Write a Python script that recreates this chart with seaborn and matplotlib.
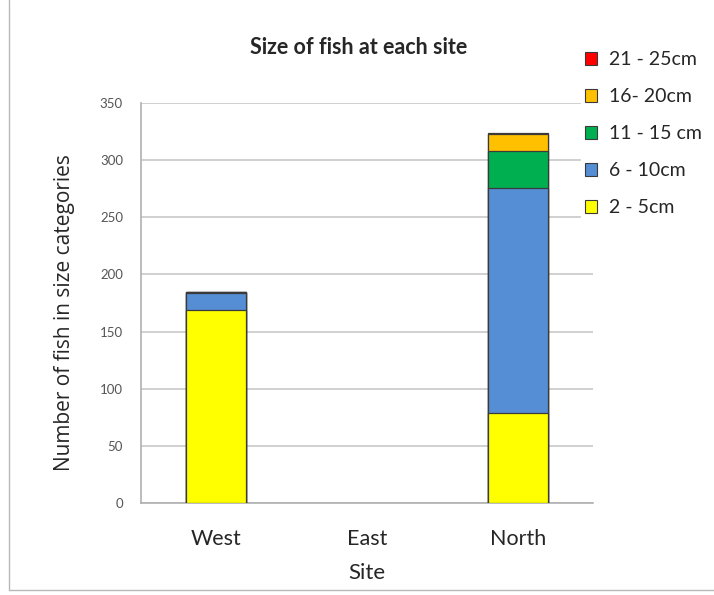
"""Stacked bar chart: size of fish at each site."""

import matplotlib

matplotlib.use("Agg")

import matplotlib.pyplot as plt
import numpy as np
import pandas as pd
import seaborn as sns
from matplotlib.lines import Line2D
from matplotlib.patches import Patch


SITES = ["West", "East", "North"]
SIZE_CLASSES = ["2 - 5cm", "6 - 10cm", "11 - 15 cm", "16- 20cm", "21 - 25cm"]
SIZE_2_5 = [169, 0, 79]
SIZE_6_10 = [15, 0, 197]
SIZE_11_15 = [1, 0, 32]
SIZE_16_20 = [0, 0, 15]
SIZE_21_25 = [0, 0, 1]
COLOURS = ["#FFFF00", "#558ED5", "#00B050", "#FFC000", "#FF0000"]


def main() -> None:
    sns.set_style("white")
    plt.rcParams["font.family"] = ["Lato", "DejaVu Sans"]

    counts = pd.DataFrame(
        [SIZE_2_5, SIZE_6_10, SIZE_11_15, SIZE_16_20, SIZE_21_25],
        index=SIZE_CLASSES,
        columns=SITES,
    ).T
    cumulative = counts.cumsum(axis=1).replace(0, np.nan)

    fig = plt.figure(figsize=(7.14, 5.95), dpi=100)
    ax = fig.add_axes([0.1975, 0.1546, 0.633, 0.6723])

    # Draw running totals from the top class down so each layer shows through.
    for size_class, colour in reversed(list(zip(SIZE_CLASSES, COLOURS))):
        layer = cumulative[size_class].rename_axis("site").reset_index(name="total")
        sns.barplot(
            data=layer,
            x="site",
            y="total",
            order=SITES,
            color=colour,
            width=0.4,
            edgecolor="#3a3a3a",
            linewidth=0.9,
            saturation=1,
            ax=ax,
            zorder=3,
        )

    ax.set_xlim(-0.5, 2.5)
    ax.set_ylim(0, 350)
    ax.set_yticks(np.arange(0, 351, 50))
    ax.yaxis.grid(True, color="#c8c8c8", linewidth=1.2, zorder=0)
    ax.set_axisbelow(True)

    for side in ("top", "right"):
        ax.spines[side].set_visible(False)
    for side in ("left", "bottom"):
        ax.spines[side].set_color("#b0b0b0")
        ax.spines[side].set_linewidth(1.2)

    ax.set_xticks([0, 1, 2])
    ax.set_xticklabels(SITES, fontsize=15.5)
    ax.set_xticks([-0.5, 0.5, 1.5, 2.5], minor=True)
    ax.tick_params(axis="x", which="major", length=0, pad=19)
    ax.tick_params(axis="x", which="minor", length=6, width=1.2,
                   color="#b0b0b0", direction="out")
    ax.tick_params(axis="y", length=6, width=1.2, color="#b0b0b0",
                   labelsize=9.5, labelcolor="#555555", direction="out", pad=7)

    ax.set_xlabel("Site", fontsize=16, labelpad=10)
    ax.set_ylabel("Number of fish in size categories", fontsize=15,
                  family=["Open Sans", "DejaVu Sans"])
    ax.yaxis.set_label_coords(-0.147, 0.476)

    fig.text(0.502, 0.921, "Size of fish at each site", ha="center",
             va="center", fontsize=15.5, fontweight="bold")

    handles = [
        Patch(facecolor=c, edgecolor="#3a3a3a", linewidth=0.8, label=l)
        for l, c in reversed(list(zip(SIZE_CLASSES, COLOURS)))
    ]
    leg = fig.legend(
        handles=handles,
        loc="upper left",
        bbox_to_anchor=(0.800, 0.937),
        frameon=True,
        facecolor="white",
        edgecolor="white",
        framealpha=1,
        fontsize=14,
        handlelength=0.65,
        handleheight=0.65,
        handletextpad=0.6,
        labelspacing=1.03,
        borderpad=0.2,
    )
    leg.set_zorder(5)

    # Light frame of the original chart area.
    fig.add_artist(Line2D([9 / 714, 9 / 714], [5 / 595, 1], color="#b8b8b8",
                          linewidth=1.0, transform=fig.transFigure))
    fig.add_artist(Line2D([9 / 714, 1], [5 / 595, 5 / 595], color="#b8b8b8",
                          linewidth=1.0, transform=fig.transFigure))

    fig.savefig("out.png", dpi=100, facecolor="white")
    plt.close(fig)


if __name__ == "__main__":
    main()
